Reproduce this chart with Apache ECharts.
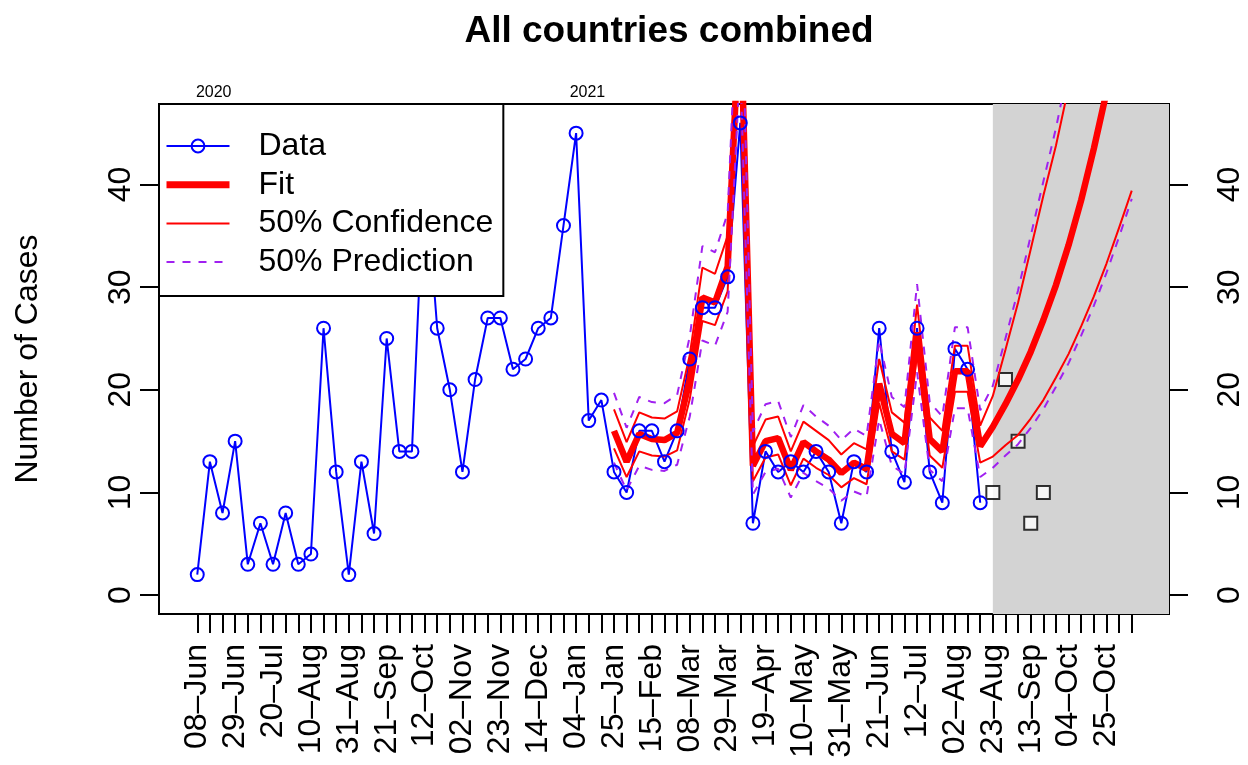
<!DOCTYPE html>
<html>
<head>
<meta charset="utf-8">
<title>All countries combined</title>
<script src="https://cdn.jsdelivr.net/npm/echarts@6/dist/echarts.min.js"></script>
<style>
html, body { margin: 0; padding: 0; background: #fff; }
#main { width: 1248px; height: 765px; }
</style>
</head>
<body>
<div id="main"></div>
<script>
// week labels (one every 3rd week, week 0 = 08-Jun-2020)
var weekLabels = ['08–Jun','29–Jun','20–Jul','10–Aug','31–Aug','21–Sep','12–Oct','02–Nov','23–Nov',
	'14–Dec','04–Jan','25–Jan','15–Feb','08–Mar','29–Mar','19–Apr','10–May','31–May','21–Jun',
	'12–Jul','02–Aug','23–Aug','13–Sep','04–Oct','25–Oct'];
var lastTickWeek = 74;
var yearLabels = ['2020', '2021'];
var yearWeeks = [1.3, 30.9];
var yTicks = [0, 10, 20, 30, 40];

// observed weekly cases, weeks 0..62
var caseCounts = [2,13,8,15,3,7,3,8,3,4,26,12,2,13,6,25,14,14,42,26,20,12,21,27,27,22,23,26,27,36,45,
	17,19,12,10,16,16,13,16,23,28,28,31,46,7,14,12,13,12,14,12,7,13,12,26,14,11,26,12,9,24,22,9];
// later observations (squares), from week 63
var laterStart = 63;
var laterCounts = [10,21,15,7,10];

// fit and bands, from week 33 to 74
var fitStart = 33;
var fitValues = [16,13,15.7,15.2,15.1,15.8,21,29,28.5,32,58,12.6,15,15.3,12.2,14.9,14,13.2,11.9,12.9,12.3,
	20.6,15.7,14.8,25.6,15.2,14,21.8,21.8,14.5,16.4,18.6,21,23.7,26.8,30.2,34.1,38.5,43.5,49,55,62];
var confUpper = [18.1,14.9,17.8,17.3,17.2,17.9,23.4,31.9,31.3,35.0,62,14.5,17.1,17.4,14.0,16.9,16.0,15.1,13.7,14.8,14.2,
	23.0,17.8,16.8,28.3,17.3,16.0,24.3,24.3,16.5,19.4,23.9,28.5,33.7,38.9,43.8,49.5,56,63,71,80,90];
var confLower = [14.3,11.5,14.0,13.6,13.5,14.1,19.1,26.7,26.3,29.6,54.8,11.1,13.4,13.7,10.7,13.3,12.4,11.7,10.5,11.4,10.8,
	18.7,14.0,13.2,23.5,13.6,12.4,19.8,19.8,12.9,13.5,14.6,15.6,17.2,19.0,21.2,23.5,26.2,29.1,32.3,35.8,39.4];
var predUpper = [19.7,16.3,19.3,18.8,18.7,19.5,25.2,34.0,33.4,37.2,65,15.9,18.6,18.9,15.4,18.5,17.4,16.5,15.1,16.2,15.5,
	24.8,19.3,18.3,30.3,18.8,17.4,26.1,26.1,18.0,20.4,25.0,29.7,35.0,40.3,45.5,51.5,58,65,73,82,92];
var predLower = [12.9,10.2,12.6,12.2,12.1,12.7,17.4,24.8,24.3,27.6,52,9.8,12.0,12.3,9.5,11.9,11.1,10.4,9.2,10.1,9.6,
	17.1,12.6,11.8,21.7,12.2,11.1,18.2,18.2,11.5,12.4,13.6,14.7,16.3,18.1,20.3,22.6,25.3,28.2,31.4,34.9,38.6];
var forecastFrom = 63;

var FONT = 'Liberation Sans, Arial, sans-serif';
var XMIN = -3.03, XMAX = 76.95, YMIN = -1.84, YMAX = 47.84;

function toPairs(start, values) {
	return values.map(function(v, i) { return [start + i, v]; });
}

var tickWeeks = [];
for (var i = 0; i <= lastTickWeek; i++) tickWeeks.push(i);
var labelWeeks = weekLabels.map(function(s, i) { return i * 3; });

var noSymbol = { opacity: 0 };

var myChart = echarts.init(document.getElementById('main'));
var option = {
	animation: false,
	title: {
		text: 'All countries combined',
		left: 664,
		textAlign: 'center',
		top: 8,
		textStyle: { fontFamily: FONT, fontSize: 37, fontWeight: 'bold', color: '#000' }
	},
	grid: {
		left: 159, right: 79, top: 104, bottom: 151,
		show: true, borderColor: '#000', borderWidth: 2, backgroundColor: 'transparent'
	},
	legend: {
		left: 159, top: 104, orient: 'vertical',
		data: [
			{ name: 'Data' },
			{ name: 'Fit', lineStyle: { width: 7 }, itemStyle: noSymbol },
			{ name: '50% Confidence', lineStyle: { width: 2 }, itemStyle: noSymbol },
			{ name: '50% Prediction', lineStyle: { width: 2, type: [8, 8] }, itemStyle: noSymbol }
		],
		itemWidth: 63, itemHeight: 16, itemGap: 6.7,
		padding: [26, 10, 18, 4],
		backgroundColor: '#fff', borderColor: '#000', borderWidth: 2, borderRadius: 0,
		selectedMode: false,
		textStyle: { fontFamily: FONT, fontSize: 32, color: '#000', lineHeight: 32, padding: [0, 0, 0, 24] }
	},
	xAxis: [{
		type: 'value', min: XMIN, max: XMAX, position: 'bottom',
		splitLine: { show: false },
		axisLine: { show: false, onZero: false },
		axisTick: { show: true, length: 19, customValues: tickWeeks, lineStyle: { color: '#000', width: 2 } },
		axisLabel: {
			customValues: labelWeeks, rotate: 90, margin: 30,
			fontFamily: FONT, fontSize: 32, color: '#000',
			formatter: function(v) { return weekLabels[Math.round(v / 3)]; }
		}
	}, {
		type: 'value', min: XMIN, max: XMAX, position: 'top',
		splitLine: { show: false }, axisLine: { show: false, onZero: false }, axisTick: { show: false },
		axisLabel: {
			customValues: yearWeeks, margin: 3,
			fontFamily: FONT, fontSize: 16, color: '#000',
			formatter: function(v) { return yearLabels[yearWeeks.indexOf(v)]; }
		}
	}],
	yAxis: [{
		type: 'value', min: YMIN, max: YMAX, position: 'left',
		name: 'Number of Cases', nameLocation: 'middle', nameGap: 115,
		nameTextStyle: { fontFamily: FONT, fontSize: 32, color: '#000' },
		splitLine: { show: false }, axisLine: { show: false, onZero: false },
		axisTick: { show: true, length: 19, customValues: yTicks, lineStyle: { color: '#000', width: 2 } },
		axisLabel: { customValues: yTicks, rotate: 90, margin: 22, fontFamily: FONT, fontSize: 32, color: '#000' }
	}, {
		type: 'value', min: YMIN, max: YMAX, position: 'right',
		splitLine: { show: false }, axisLine: { show: false, onZero: false },
		axisTick: { show: true, length: 19, customValues: yTicks, lineStyle: { color: '#000', width: 2 } },
		axisLabel: { customValues: yTicks, rotate: 90, margin: 45, fontFamily: FONT, fontSize: 32, color: '#000' }
	}],
	series: [{
		// grey forecast region
		name: 'forecast', type: 'line', data: [], silent: true,
		markArea: {
			silent: true,
			itemStyle: { color: '#d3d3d3' },
			data: [[{ xAxis: forecastFrom }, { xAxis: XMAX }]]
		}
	}, {
		name: 'Data', type: 'line', data: toPairs(0, caseCounts),
		symbol: 'circle', symbolSize: 13,
		lineStyle: { color: '#0000ff', width: 2 },
		itemStyle: { color: 'rgba(0,0,0,0)', borderColor: '#0000ff', borderWidth: 2 }
	}, {
		name: 'Fit', type: 'line', data: toPairs(fitStart, fitValues), symbol: 'none',
		lineStyle: { color: '#ff0000', width: 6.5 }, itemStyle: { color: '#ff0000' }
	}, {
		name: '50% Confidence', type: 'line', data: toPairs(fitStart, confUpper), symbol: 'none',
		lineStyle: { color: '#ff0000', width: 2 }, itemStyle: { color: '#ff0000' }
	}, {
		name: '50% Confidence', type: 'line', data: toPairs(fitStart, confLower), symbol: 'none',
		lineStyle: { color: '#ff0000', width: 2 }, itemStyle: { color: '#ff0000' }
	}, {
		name: '50% Prediction', type: 'line', data: toPairs(fitStart, predUpper), symbol: 'none',
		lineStyle: { color: '#a020f0', width: 2, type: [8, 8] }, itemStyle: { color: '#a020f0' }
	}, {
		name: '50% Prediction', type: 'line', data: toPairs(fitStart, predLower), symbol: 'none',
		lineStyle: { color: '#a020f0', width: 2, type: [8, 8] }, itemStyle: { color: '#a020f0' }
	}, {
		name: 'later', type: 'scatter', data: toPairs(laterStart, laterCounts),
		symbol: 'rect', symbolSize: 13,
		itemStyle: { color: '#fff', borderColor: '#000', borderWidth: 2 }
	}]
};
myChart.setOption(option);
</script>
</body>
</html>
